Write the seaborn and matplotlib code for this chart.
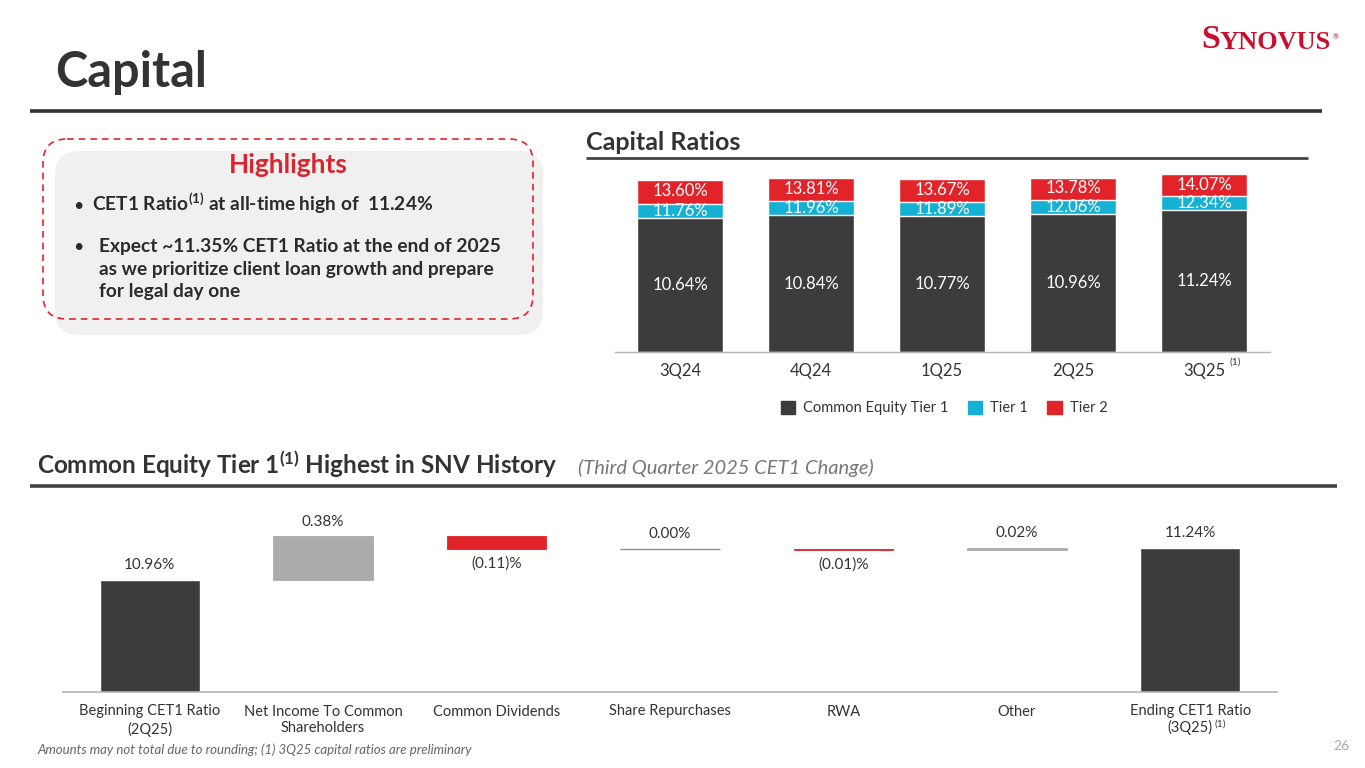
import matplotlib
matplotlib.use("Agg")
import matplotlib.pyplot as plt
import seaborn as sns
import pandas as pd
from matplotlib.patches import FancyBboxPatch, Patch

# ---------------- data ----------------
quarters = ["3Q24", "4Q24", "1Q25", "2Q25", "3Q25"]
cet1_ratio = [10.64, 10.84, 10.77, 10.96, 11.24]
tier1_ratio = [11.76, 11.96, 11.89, 12.06, 12.34]
tier2_ratio = [13.60, 13.81, 13.67, 13.78, 14.07]

wf_labels = ["Beginning CET1 Ratio\n(2Q25)", "Net Income To Common\nShareholders",
             "Common Dividends", "Share Repurchases", "RWA", "Other",
             "Ending CET1 Ratio"]
wf_last_sub = "(3Q25)"
wf_values = [10.96, 0.38, -0.11, 0.00, -0.01, 0.02, 11.24]

legend_labels = ["Common Equity Tier 1", "Tier 1", "Tier 2"]

# ---------------- style ----------------
W, H = 1365, 768
DARK = "#3c3c3c"
CYAN = "#14b1d5"
RED = "#e3232a"
GRAYPOS = "#ababab"
TXT = "#2b2b2b"

sns.set_theme(style="white")
plt.rcParams["font.family"] = ["Lato", "DejaVu Sans"]
plt.rcParams["mathtext.fontset"] = "custom"
plt.rcParams["mathtext.rm"] = "Lato"
plt.rcParams["mathtext.it"] = "Lato:italic"
plt.rcParams["mathtext.bf"] = "Lato:bold"

fig = plt.figure(figsize=(W / 100, H / 100), dpi=100)
fig.patch.set_facecolor("white")
bg = fig.add_axes([0, 0, 1, 1], zorder=0)
bg.set_xlim(0, W)
bg.set_ylim(H, 0)
bg.axis("off")


def px_axes(x0, y0, x1, y1):
    a = fig.add_axes([x0 / W, 1 - y1 / H, (x1 - x0) / W, (y1 - y0) / H], zorder=2)
    a.patch.set_alpha(0)
    return a


# ---------------- title / logo ----------------
bg.text(55, 87, "Capital", fontsize=35, fontweight="bold", color="#333333", va="baseline")
bg.plot([30, 1322], [111, 111], color="#333333", lw=2.6, solid_capstyle="butt")

s = bg.text(1201, 48, "S", family="Liberation Serif", fontsize=24.5, color="#c8102e",
            va="baseline", fontweight="bold")
yn = bg.annotate("YNOVUS", xy=(1, 0), xycoords=s, xytext=(0, 0.8), textcoords="offset points",
                 family="Liberation Serif", fontsize=19, color="#c8102e", va="bottom",
                 ha="left", fontweight="bold")
bg.annotate("®", xy=(1, 1), xycoords=yn, xytext=(1, -2), textcoords="offset points",
            fontsize=5, color="#c8102e", va="top", ha="left")

# ---------------- highlights box ----------------
bg.add_patch(FancyBboxPatch((55, 151), 488, 184, boxstyle="round,pad=0,rounding_size=24",
                            fc="#f0f0f0", ec="none", zorder=1))
bg.add_patch(FancyBboxPatch((43, 139), 490, 180, boxstyle="round,pad=0,rounding_size=24",
                            fc="none", ec="#e0262e", lw=1.2, ls=(0, (4, 3)), zorder=2))
bg.text(288, 165, "Highlights", fontsize=19, fontweight="bold", color="#d9262e",
        ha="center", va="center", zorder=3)
bullets = [(211, 92, r"CET1 Ratio$\mathregular{^{(1)}}$ at all-time high of  11.24%"),
           (252, 99, "Expect ~11.35% CET1 Ratio at the end of 2025"),
           (274.5, 99, "as we prioritize client loan growth and prepare"),
           (297, 99, "for legal day one")]
for i, (yb, xb, t) in enumerate(bullets):
    if i < 2:
        bg.text(78, yb, "•", fontsize=13, color=TXT, ha="center", va="baseline", zorder=3)
    bg.text(xb, yb, t, fontsize=13.8, fontweight="bold", color=TXT, va="baseline", zorder=3)

# ---------------- capital ratios chart ----------------
bg.text(586, 143, "Capital Ratios", fontsize=18, fontweight="bold", color="#333333", va="center")
bg.plot([586, 1308], [158, 158], color="#444444", lw=2, solid_capstyle="butt")

df = pd.DataFrame({"quarter": quarters, "cet1": cet1_ratio, "tier1": tier1_ratio,
                   "tier2": tier2_ratio})
ax1 = px_axes(614.5, 169, 1269.5, 352)
for col, c in [("tier2", RED), ("tier1", CYAN), ("cet1", DARK)]:
    sns.barplot(data=df, x="quarter", y=col, color=c, saturation=1, width=0.65,
                errorbar=None, ax=ax1)
ax1.set_xlim(-0.5, 4.5)
ax1.set_ylim(0, 14.5)
ax1.set_xlabel("")
ax1.set_ylabel("")
ax1.set_yticks([])
for sp in ["top", "left", "right"]:
    ax1.spines[sp].set_visible(False)
ax1.spines["bottom"].set_color("#b5b5b5")
ax1.spines["bottom"].set_linewidth(1)
ax1.tick_params(axis="x", length=0, pad=8, labelsize=12, labelcolor="#333333")
for i in range(len(quarters)):
    c1, t1, t2 = cet1_ratio[i], tier1_ratio[i], tier2_ratio[i]
    ax1.text(i, c1 / 2, f"{c1:.2f}%", ha="center", va="center", color="white", fontsize=12)
    ax1.text(i, (c1 + t1) / 2, f"{t1:.2f}%", ha="center", va="center", color="white",
             fontsize=12)
    ax1.text(i, (t1 + t2) / 2 + 0.05, f"{t2:.2f}%", ha="center", va="center", color="white",
             fontsize=12)
ax1.annotate("(1)", xy=(len(quarters) - 1, 0), xycoords=("data", "axes fraction"),
             xytext=(18, -7.5), textcoords="offset points", fontsize=7.5,
             color="#333333", ha="left", va="center")

handles = [Patch(color=c, label=l) for c, l in zip([DARK, CYAN, RED], legend_labels)]
fig.legend(handles=handles, loc="center", bbox_to_anchor=(944 / W, 1 - 408 / H), ncol=3,
           frameon=False, handlelength=1.0, handleheight=1.0, handletextpad=0.55,
           columnspacing=1.3, prop={"size": 10.5}, labelcolor="#333333")

# ---------------- waterfall ----------------
bg.text(37, 474, r"Common Equity Tier 1$\mathregular{^{(1)}}$ Highest in SNV History",
        fontsize=17.5, fontweight="bold", color="#333333", va="baseline")
bg.text(578, 474, "(Third Quarter 2025 CET1 Change)", fontsize=14.5, style="italic",
        color="#777777", va="baseline")
bg.plot([30, 1337], [486, 486], color="#444444", lw=2.6, solid_capstyle="butt")

ax2 = px_axes(63, 495, 1277, 692)
n = len(wf_values)
bottoms, heights = [0.0], [wf_values[0]]
running = wf_values[0]
for v in wf_values[1:-1]:
    bottoms.append(running)
    heights.append(v)
    running += v
bottoms.append(0.0)
heights.append(wf_values[-1])

for i in range(n):
    v = heights[i]
    if i in (0, n - 1):
        ax2.bar(i, v, bottom=bottoms[i], width=0.575, color=DARK)
    elif v > 0:
        ax2.bar(i, v, bottom=bottoms[i], width=0.575, color=GRAYPOS, edgecolor=GRAYPOS,
                linewidth=0.6)
    elif v < 0:
        ax2.bar(i, v, bottom=bottoms[i], width=0.575, color=RED, edgecolor=RED,
                linewidth=0.6)
    else:
        ax2.bar(i, v, bottom=bottoms[i], width=0.575, color="#8c8c8c", edgecolor="#8c8c8c",
                linewidth=1.0)
    top = bottoms[i] + max(v, 0)
    low = bottoms[i] + min(v, 0)
    if v < 0 and i not in (0, n - 1):
        txt = f"({abs(v):.2f})%"
        ax2.annotate(txt, xy=(i, low), xytext=(0, -5.5), textcoords="offset points",
                     ha="center", va="top", fontsize=11, color="#333333")
    else:
        txt = f"{v:.2f}%"
        ax2.annotate(txt, xy=(i, top), xytext=(0, 5.5), textcoords="offset points",
                     ha="center", va="bottom", fontsize=11, color="#333333")

ax2.set_xlim(-0.5, n - 0.5)
ax2.set_ylim(9.98, 11.70)
ax2.set_yticks([])
ax2.set_xticks(range(n))
ax2.set_xticklabels(wf_labels, fontsize=10.5, color="#333333", linespacing=1.25)
ax2.tick_params(axis="x", length=0, pad=9)
for sp in ["top", "left", "right"]:
    ax2.spines[sp].set_visible(False)
ax2.spines["bottom"].set_color("#b5b5b5")
ax2.spines["bottom"].set_linewidth(1.2)
sub = ax2.annotate(wf_last_sub, xy=(n - 1, 0), xycoords=("data", "axes fraction"),
                   xytext=(0, -25.3), textcoords="offset points", fontsize=10.5,
                   color="#333333", ha="center", va="center")
ax2.annotate("(1)", xy=(1, 1), xycoords=sub, xytext=(1.5, 0), textcoords="offset points",
             fontsize=7.5, color="#333333", ha="left", va="top")

# ---------------- footer ----------------
bg.text(37, 750, "Amounts may not total due to rounding; (1) 3Q25 capital ratios are preliminary",
        fontsize=9.5, style="italic", color="#666666", va="center")
bg.text(1341, 746, "26", fontsize=10, color="#aaaaaa", ha="center", va="center")

fig.savefig("out.png", dpi=100, facecolor="white")
